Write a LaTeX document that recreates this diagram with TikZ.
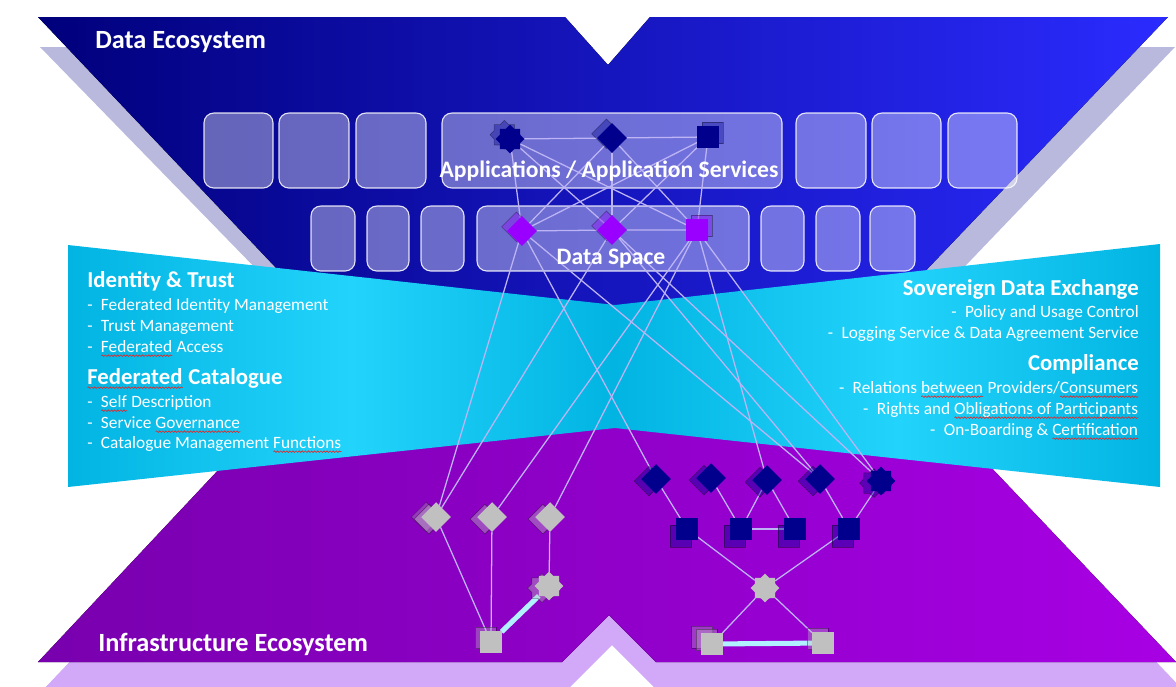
\documentclass[tikz,border=0pt]{standalone}
\usepackage{fontspec}
\setmainfont{Carlito}
\usetikzlibrary{shapes.geometric,shadows,fit,decorations.pathmorphing}

\definecolor{ecoA}{HTML}{00007C}
\definecolor{ecoB}{HTML}{2B2BFF}
\definecolor{infA}{HTML}{7800AE}
\definecolor{infB}{HTML}{A800E4}
\definecolor{ecoShadow}{HTML}{B9B9DD}
\definecolor{infShadow}{HTML}{D2A8F8}
\definecolor{bandA}{HTML}{22D3FB}
\definecolor{bandB}{HTML}{02B4E2}
\definecolor{navyNode}{HTML}{00008C}
\definecolor{dsNode}{HTML}{9900FF}
\definecolor{greyNode}{HTML}{C0C0C0}
\definecolor{linkLine}{HTML}{BCB4F4}
\definecolor{pipeLine}{HTML}{B0F0FF}
\definecolor{spellred}{HTML}{E02828}

\pgfdeclarehorizontalshading{bandshade}{100bp}{color(0bp)=(bandB); color(25bp)=(bandB); color(38bp)=(bandA); color(50bp)=(bandB); color(63bp)=(bandA); color(75bp)=(bandB); color(100bp)=(bandB)}

\newlength\spellwd
\newcommand\spellwave[1]{\settowidth\spellwd{#1}\rlap{#1}\tikz[baseline=0pt]\draw[spellred, line width=0.45pt, decorate, decoration={snake, amplitude=0.55pt, segment length=2.2pt}] (0pt,-2.6pt) -- (\spellwd,-2.6pt);}

\pgfdeclarelayer{back}
\pgfdeclarelayer{links}
\pgfsetlayers{back,links,main}

\tikzset{
  ecobox/.style={draw=white, line width=0.8pt, draw opacity=0.85, fill=white, fill opacity=0.38, rounded corners=7pt, inner sep=0pt},
  hub/.style={inner sep=0pt, outer sep=0pt},
  gem/.style={hub, diamond, minimum size=21pt},
  block/.style={hub, rectangle, minimum width=15pt, minimum height=15.5pt},
  burst/.style={hub, star, star points=8, star point ratio=1.3, minimum size=20.5pt},
  navyfill/.style={fill=navyNode},
  dsfill/.style={fill=dsNode},
  greyfill/.style={fill=greyNode},
  lshade/.style={copy shadow={shadow xshift=-5pt, shadow yshift=-1.5pt, opacity=0.4}},
  dlshade/.style={copy shadow={shadow xshift=-4.3pt, shadow yshift=-5pt, opacity=0.4}},
  ulshade/.style={copy shadow={shadow xshift=-4pt, shadow yshift=3pt, opacity=0.35}},
  urshade/.style={copy shadow={shadow xshift=3.5pt, shadow yshift=3pt, opacity=0.35}},
  link/.style={draw=linkLine, line width=0.9pt},
  pipe/.style={draw=pipeLine, line width=3.6pt},
  ecotitle/.style={text=white, inner sep=0pt, font=\bfseries\fontsize{18.7}{22}\selectfont},
  boxtitle/.style={text=white, inner sep=0pt, font=\bfseries\fontsize{16.8}{20}\selectfont},
  heading/.style={text=white, inner sep=0pt, font=\bfseries\fontsize{16.2}{19}\selectfont},
  item/.style={text=white, inner sep=0pt, font=\fontsize{12.3}{15}\selectfont}
}

\begin{document}
\begin{tikzpicture}[x=0.025cm, y=-0.025cm]
\useasboundingbox (0,0) rectangle (1176,686);

\begin{pgfonlayer}{back}
  % shadows of the two ecosystems
  \fill[ecoShadow] (40,47) -- (570,47) -- (612,95) -- (655,47) -- (1175,47) -- (880,355) -- (340,355) -- cycle;
  \fill[infShadow] (290,430) -- (935,430) -- (1185,692) -- (659,692) -- (612,645) -- (565,692) -- (41,692) -- cycle;
  % data ecosystem
  \fill[left color=ecoA, right color=ecoB] (38,17) -- (565,17) -- (608,65) -- (650,17) -- (1168,17) -- (869,330) -- (335,330) -- cycle;
  % infrastructure ecosystem
  \fill[left color=infA, right color=infB] (284,400) -- (927,400) -- (1176,662) -- (656,662) -- (609,615) -- (562,662) -- (38,662) -- cycle;
  % federation services band
  \shade[shading=bandshade] (68,245) -- (615,305) -- (1160,244) -- (1160,487) -- (615,428) -- (68,487) -- cycle;

  % application row
  \foreach \xa/\xb [count=\i] in {204/273,279/349,356/426,796/866,872/941,948/1017}
    \node[ecobox, fit={(\xa,113) (\xb,188)}] (app\i) {};
  \node[ecobox, fit={(442,113) (782,188)}] (appMain) {};
  % data space row
  \foreach \xa/\xb [count=\i] in {311/355,367/409,421/464,761/804,816/860,870/915}
    \node[ecobox, fit={(\xa,206) (\xb,271)}] (ds\i) {};
  \node[ecobox, fit={(477,206) (749,271)}] (dsMain) {};
\end{pgfonlayer}

\node[ecotitle, anchor=base west] (dataEco) at (95,48) {Data Ecosystem};
\node[ecotitle, anchor=base west] (infraEco) at (98,651) {Infrastructure Ecosystem};
\node[boxtitle, anchor=base] (appLabel) at (609,177) {Applications / Application Services};
\node[boxtitle, anchor=base] (dsLabel) at (611,264) {Data Space};

% left services
\node[heading, anchor=base west] (idTrust) at (87,287) {Identity \& Trust};
\foreach \y/\t [count=\i] in {310/Federated Identity Management, 331/Trust Management, 352/{\spellwave{Federated} Access}}
  \node[item, anchor=base west] (idItem\i) at (87,\y) {-\hspace{6pt}\t};
\node[heading, anchor=base west] (fedCat) at (87,384) {\spellwave{Federated} Catalogue};
\foreach \y/\t [count=\i] in {407/{\spellwave{Self} Description}, 428/{Service \spellwave{Governance}}, 448/{Catalogue Management \spellwave{Functions}}}
  \node[item, anchor=base west] (catItem\i) at (87,\y) {-\hspace{6pt}\t};

% right services
\node[heading, anchor=base east] (sovEx) at (1139,295) {Sovereign Data Exchange};
\foreach \y/\t [count=\i] in {317/Policy and Usage Control, 338/Logging Service \& Data Agreement Service}
  \node[item, anchor=base east] (sovItem\i) at (1139,\y) {-\hspace{6pt}\t};
\node[heading, anchor=base east] (compl) at (1139,370) {Compliance};
\foreach \y/\t [count=\i] in {393/{Relations \spellwave{between} Providers/\spellwave{Consumers}}, 414/{Rights and \spellwave{Obligations of Participants}}, 435/{On-Boarding \& \spellwave{Certification}}}
  \node[item, anchor=base east] (comItem\i) at (1139,\y) {-\hspace{6pt}\t};

% application and data space nodes
\node[burst, navyfill, ulshade] (apStar) at (510,139) {};
\node[gem, navyfill, ulshade] (apGem) at (612,138) {};
\node[block, navyfill, urshade] (apBlock) at (708,137) {};
\node[gem, dsfill, ulshade] (dsGemA) at (522,231) {};
\node[gem, dsfill, ulshade] (dsGemB) at (612,230) {};
\node[block, dsfill, urshade] (dsBlock) at (697,230) {};

% infrastructure nodes, left
\node[gem, greyfill, copy shadow={shadow xshift=-7pt, shadow yshift=0pt, opacity=0.3}, lshade] (gGemA) at (436,517) {};
\node[gem, greyfill, lshade] (gGemB) at (492,517) {};
\node[gem, greyfill, lshade] (gGemC) at (550,517) {};
\node[burst, greyfill, lshade] (gStar) at (549,586) {};
\node[block, greyfill, ulshade] (gBlock) at (491,642) {};

% infrastructure nodes, right
\node[gem, navyfill, lshade] (nGemA) at (656,479) {};
\node[gem, navyfill, lshade] (nGemB) at (711,478) {};
\node[gem, navyfill, lshade] (nGemC) at (767,480) {};
\node[gem, navyfill, lshade] (nGemD) at (820,479) {};
\node[burst, navyfill, lshade] (nStar) at (881,481) {};
\foreach \x [count=\i] in {687,741,795,849}
  \node[block, navyfill, dlshade] (mBlock\i) at (\x,529) {};
\node[burst, greyfill] (rStar) at (765,588) {};
\node[block, greyfill, copy shadow={shadow xshift=-7pt, shadow yshift=5pt, opacity=0.3}, ulshade] (rBlockA) at (712,644) {};
\node[block, greyfill, ulshade] (rBlockB) at (823,643) {};

\begin{pgfonlayer}{links}
  \draw[link] (apStar) -- (apGem) -- (apBlock);
  \draw[link] (dsGemA) -- (dsGemB) -- (dsBlock);
  \foreach \a in {apStar,apGem,apBlock}
    \foreach \b in {dsGemA,dsGemB,dsBlock}
      \draw[link] (\a) -- (\b);
  \foreach \a/\b in {dsGemA/gGemA, dsGemA/nGemA, dsGemA/nGemD, dsGemB/gGemA, dsGemB/nGemD, dsGemB/nStar,
                     dsBlock/gGemB, dsBlock/gGemC, dsBlock/nGemC, dsBlock/nStar}
    \draw[link] (\a) -- (\b);
  % left cluster
  \draw[link] (gGemA) -- (gBlock);
  \draw[link] (gGemB) -- (gBlock);
  \draw[link] (gGemC) -- (gStar);
  \draw[pipe] (gStar) -- (gBlock);
  % right cluster
  \foreach \a/\b in {nGemA/mBlock1, nGemB/mBlock2, nGemC/mBlock2, nGemC/mBlock3, nGemD/mBlock4, nStar/mBlock4,
                     mBlock2/mBlock3, mBlock1/rStar, mBlock4/rStar, rStar/rBlockA, rStar/rBlockB}
    \draw[link] (\a) -- (\b);
  \draw[pipe] (rBlockA) -- (rBlockB);
\end{pgfonlayer}
\end{tikzpicture}
\end{document}
